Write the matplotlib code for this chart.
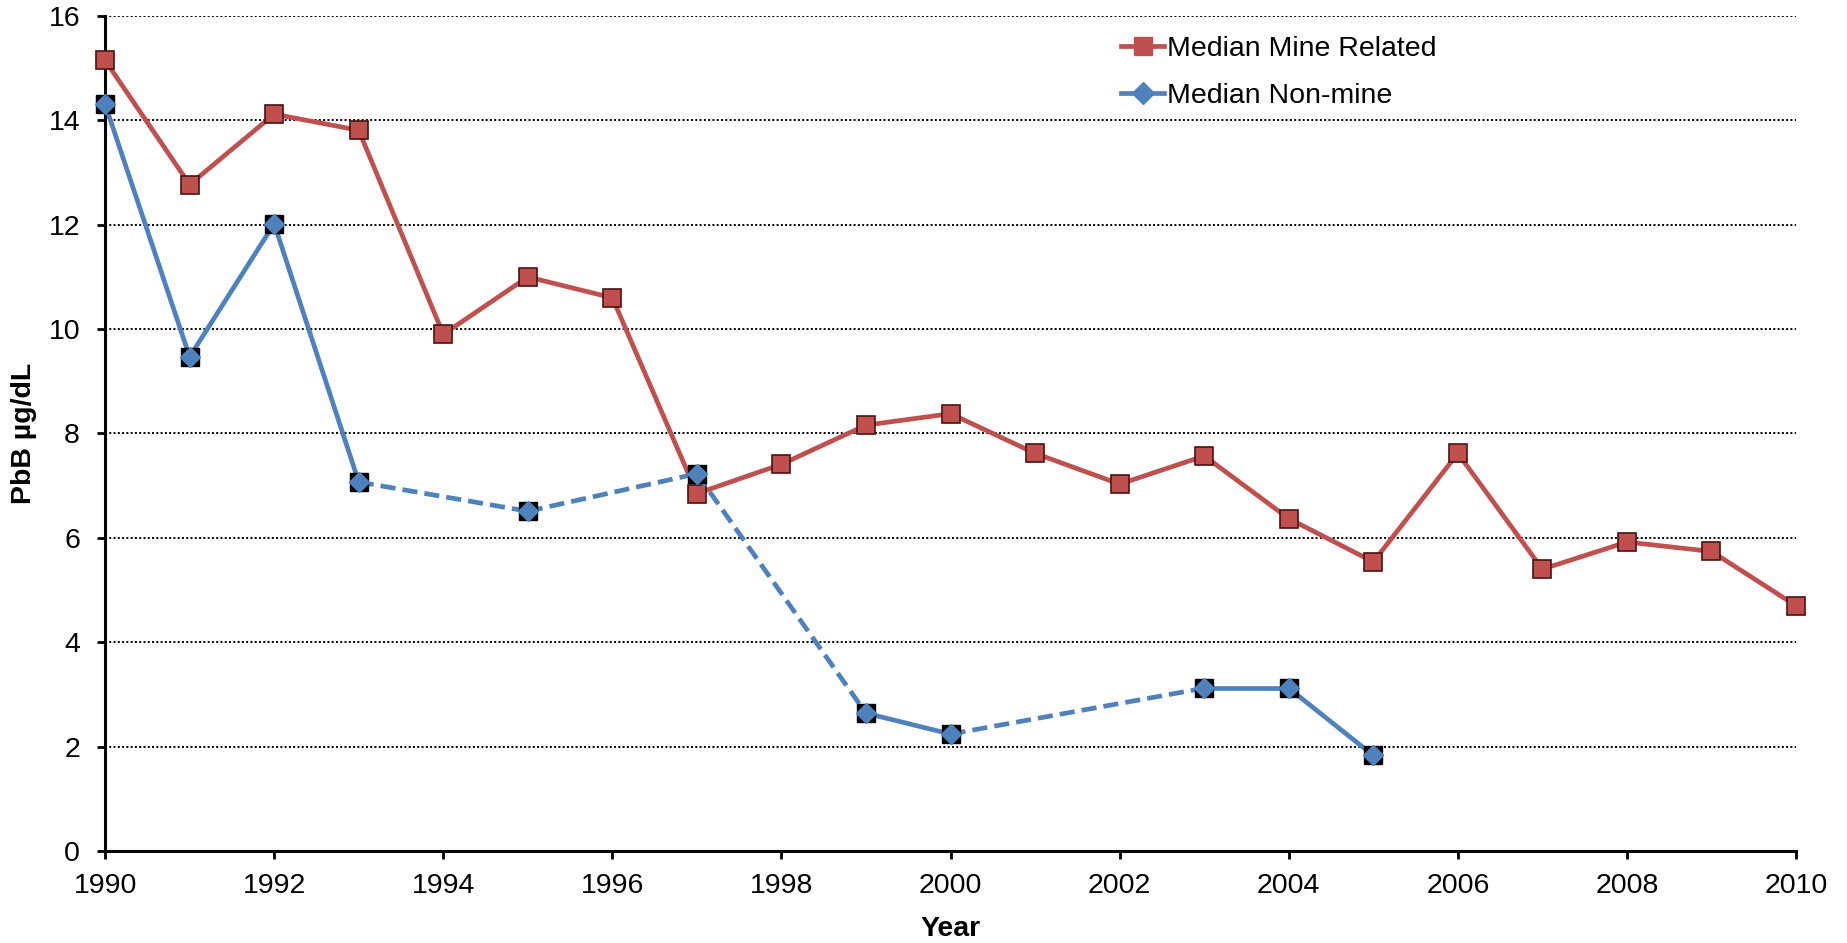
import matplotlib
matplotlib.use("Agg")
import matplotlib.pyplot as plt
from matplotlib.lines import Line2D

plt.rcParams['font.family'] = ['Liberation Sans', 'DejaVu Sans']

# median blood lead, mine related
mine_years = [1990, 1991, 1992, 1993, 1994, 1995, 1996, 1997, 1998, 1999, 2000,
              2001, 2002, 2003, 2004, 2005, 2006, 2007, 2008, 2009, 2010]
mine_vals = [15.15, 12.77, 14.12, 13.81, 9.90, 11.0, 10.6, 6.85, 7.41, 8.16, 8.38,
             7.62, 7.03, 7.57, 6.37, 5.54, 7.62, 5.40, 5.92, 5.74, 4.70]

# median blood lead, non-mine (some years missing)
non_years = [1990, 1991, 1992, 1993, 1995, 1997, 1999, 2000, 2003, 2004, 2005]
non_vals = [14.31, 9.47, 12.02, 7.07, 6.51, 7.23, 2.64, 2.24, 3.12, 3.12, 1.83]

yticks = [0, 2, 4, 6, 8, 10, 12, 14, 16]
xticks = list(range(1990, 2011, 2))

red = '#C0504D'
blue = '#4F81BD'
fs = 20.5

fig = plt.figure(figsize=(18.47, 9.43), dpi=100)
ax = fig.add_axes([0.0569, 0.0976, 0.9155, 0.8854])

for y in yticks[1:]:
    ax.axhline(y, color='black', lw=1.4, ls=(0, (1, 1.2)), zorder=1)

ax.plot(mine_years, mine_vals, color=red, lw=3.4, zorder=3)
ax.plot(mine_years, mine_vals, ls='none', marker='s', ms=13.5, mfc=red,
        mec='#4a1412', mew=1.2, zorder=4, clip_on=False)

# solid between consecutive years, dashed across missing years
for i in range(len(non_years) - 1):
    gap = non_years[i + 1] - non_years[i] > 1
    ax.plot(non_years[i:i + 2], non_vals[i:i + 2], color=blue, lw=3.4,
            ls=(0, (3.2, 1.5)) if gap else '-', zorder=5)
ax.plot(non_years, non_vals, ls='none', marker='s', ms=13, mfc='black',
        mec='black', zorder=6, clip_on=False)
ax.plot(non_years, non_vals, ls='none', marker='D', ms=10, mfc=blue,
        mec=blue, zorder=7, clip_on=False)

ax.set_xlim(1990, 2010)
ax.set_ylim(0, 16)
ax.set_xticks(xticks)
ax.set_yticks(yticks)
ax.tick_params(axis='both', labelsize=fs, width=2, length=6, direction='out',
               color='black')
ax.tick_params(axis='y', pad=12)
ax.tick_params(axis='x', pad=10)

for s in ['top', 'right']:
    ax.spines[s].set_visible(False)
for s in ['left', 'bottom']:
    ax.spines[s].set_linewidth(2.2)
ax.patch.set_visible(False)

ax.set_xlabel('Year', fontsize=fs, fontweight='bold')
ax.set_ylabel('PbB µg/dL', fontsize=fs, fontweight='bold')
ax.xaxis.set_label_coords(0.5, -0.078)
ax.yaxis.set_label_coords(-0.04, 0.5)

handles = [
    Line2D([], [], color=red, lw=3.4, marker='s', ms=13, mfc=red, mec=red),
    Line2D([], [], color=blue, lw=3.4, marker='D', ms=11, mfc=blue, mec=blue),
]
ax.legend(handles, ['Median Mine Related', 'Median Non-mine'], loc='upper left',
          bbox_to_anchor=(0.601, 0.976), frameon=False, fontsize=fs,
          handlelength=1.5, handletextpad=0.1, labelspacing=0.75,
          borderpad=0, borderaxespad=0)

fig.savefig('out.png', dpi=100)
